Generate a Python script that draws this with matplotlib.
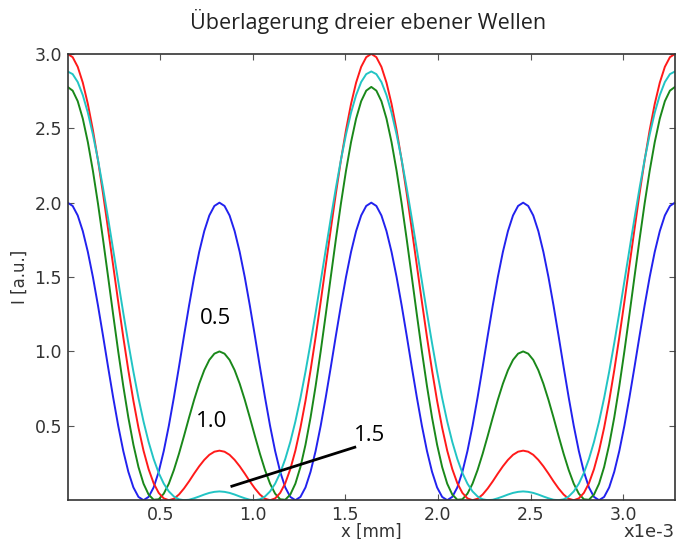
import numpy as np
import matplotlib.pyplot as plt

TITLE = "Überlagerung dreier ebener Wellen"

# sample positions along x (axis units of 1e-3), 121 points
x_pos = np.linspace(0.0, 3.28, 121)

# intensities at those positions
blue_vals = [
    2.000, 1.978, 1.914, 1.809, 1.669, 1.500, 1.309, 1.105, 0.895, 0.691,
    0.500, 0.331, 0.191, 0.086, 0.022, 0.000, 0.022, 0.086, 0.191, 0.331,
    0.500, 0.691, 0.895, 1.105, 1.309, 1.500, 1.669, 1.809, 1.914, 1.978,
    2.000, 1.978, 1.914, 1.809, 1.669, 1.500, 1.309, 1.105, 0.895, 0.691,
    0.500, 0.331, 0.191, 0.086, 0.022, 0.000, 0.022, 0.086, 0.191, 0.331,
    0.500, 0.691, 0.895, 1.105, 1.309, 1.500, 1.669, 1.809, 1.914, 1.978,
    2.000, 1.978, 1.914, 1.809, 1.669, 1.500, 1.309, 1.105, 0.895, 0.691,
    0.500, 0.331, 0.191, 0.086, 0.022, 0.000, 0.022, 0.086, 0.191, 0.331,
    0.500, 0.691, 0.895, 1.105, 1.309, 1.500, 1.669, 1.809, 1.914, 1.978,
    2.000, 1.978, 1.914, 1.809, 1.669, 1.500, 1.309, 1.105, 0.895, 0.691,
    0.500, 0.331, 0.191, 0.086, 0.022, 0.000, 0.022, 0.086, 0.191, 0.331,
    0.500, 0.691, 0.895, 1.105, 1.309, 1.500, 1.669, 1.809, 1.914, 1.978,
    2.000,
]
green_vals = [
    2.778, 2.753, 2.682, 2.565, 2.407, 2.214, 1.994, 1.753, 1.502, 1.248,
    1.000, 0.767, 0.556, 0.373, 0.223, 0.111, 0.038, 0.003, 0.006, 0.044,
    0.111, 0.203, 0.312, 0.432, 0.556, 0.675, 0.783, 0.874, 0.943, 0.985,
    1.000, 0.985, 0.943, 0.874, 0.783, 0.675, 0.556, 0.432, 0.312, 0.203,
    0.111, 0.044, 0.006, 0.003, 0.038, 0.111, 0.223, 0.373, 0.556, 0.767,
    1.000, 1.248, 1.502, 1.753, 1.994, 2.214, 2.407, 2.565, 2.682, 2.753,
    2.778, 2.753, 2.682, 2.565, 2.407, 2.214, 1.994, 1.753, 1.502, 1.248,
    1.000, 0.767, 0.556, 0.373, 0.223, 0.111, 0.038, 0.003, 0.006, 0.044,
    0.111, 0.203, 0.312, 0.432, 0.556, 0.675, 0.783, 0.874, 0.943, 0.985,
    1.000, 0.985, 0.943, 0.874, 0.783, 0.675, 0.556, 0.432, 0.312, 0.203,
    0.111, 0.044, 0.006, 0.003, 0.038, 0.111, 0.223, 0.373, 0.556, 0.767,
    1.000, 1.248, 1.502, 1.753, 1.994, 2.214, 2.407, 2.565, 2.682, 2.753,
    2.778,
]
red_vals = [
    3.000, 2.978, 2.913, 2.807, 2.664, 2.488, 2.285, 2.061, 1.822, 1.578,
    1.333, 1.096, 0.873, 0.668, 0.487, 0.333, 0.209, 0.114, 0.049, 0.012,
    0.000, 0.010, 0.038, 0.079, 0.127, 0.179, 0.228, 0.271, 0.305, 0.326,
    0.333, 0.326, 0.305, 0.271, 0.228, 0.179, 0.127, 0.079, 0.038, 0.010,
    0.000, 0.012, 0.049, 0.114, 0.209, 0.333, 0.487, 0.668, 0.873, 1.096,
    1.333, 1.578, 1.822, 2.061, 2.285, 2.488, 2.664, 2.807, 2.913, 2.978,
    3.000, 2.978, 2.913, 2.807, 2.664, 2.488, 2.285, 2.061, 1.822, 1.578,
    1.333, 1.096, 0.873, 0.668, 0.487, 0.333, 0.209, 0.114, 0.049, 0.012,
    0.000, 0.010, 0.038, 0.079, 0.127, 0.179, 0.228, 0.271, 0.305, 0.326,
    0.333, 0.326, 0.305, 0.271, 0.228, 0.179, 0.127, 0.079, 0.038, 0.010,
    0.000, 0.012, 0.049, 0.114, 0.209, 0.333, 0.487, 0.668, 0.873, 1.096,
    1.333, 1.578, 1.822, 2.061, 2.285, 2.488, 2.664, 2.807, 2.913, 2.978,
    3.000,
]
cyan_vals = [
    2.882, 2.864, 2.811, 2.723, 2.605, 2.458, 2.288, 2.098, 1.895, 1.684,
    1.471, 1.259, 1.056, 0.864, 0.687, 0.529, 0.392, 0.277, 0.183, 0.111,
    0.059, 0.025, 0.006, 0.000, 0.003, 0.013, 0.025, 0.038, 0.049, 0.056,
    0.059, 0.056, 0.049, 0.038, 0.025, 0.013, 0.003, 0.000, 0.006, 0.025,
    0.059, 0.111, 0.183, 0.277, 0.392, 0.529, 0.687, 0.864, 1.056, 1.259,
    1.471, 1.684, 1.895, 2.098, 2.288, 2.458, 2.605, 2.723, 2.811, 2.864,
    2.882, 2.864, 2.811, 2.723, 2.605, 2.458, 2.288, 2.098, 1.895, 1.684,
    1.471, 1.259, 1.056, 0.864, 0.687, 0.529, 0.392, 0.277, 0.183, 0.111,
    0.059, 0.025, 0.006, 0.000, 0.003, 0.013, 0.025, 0.038, 0.049, 0.056,
    0.059, 0.056, 0.049, 0.038, 0.025, 0.013, 0.003, 0.000, 0.006, 0.025,
    0.059, 0.111, 0.183, 0.277, 0.392, 0.529, 0.687, 0.864, 1.056, 1.259,
    1.471, 1.684, 1.895, 2.098, 2.288, 2.458, 2.605, 2.723, 2.811, 2.864,
    2.882,
]

x_ticks = [0.5, 1.0, 1.5, 2.0, 2.5, 3.0]
y_ticks = [0.5, 1.0, 1.5, 2.0, 2.5, 3.0]

# curve labels and where they sit (data coords)
labels = ["0.5", "1.0", "1.5"]
label_x = [0.796, 0.779, 1.632]
label_y = [1.224, 0.531, 0.437]
pointer_x = [0.887, 1.551]
pointer_y = [0.094, 0.356]


fig = plt.figure(figsize=(6.76, 5.39), dpi=100)
ax = fig.add_axes([0.1, 0.072, 0.8985, 0.828])

ax.plot(x_pos, blue_vals, color='#2222ee', lw=1.4)
ax.plot(x_pos, green_vals, color='#1a881a', lw=1.4)
ax.plot(x_pos, red_vals, color='#ff1a1a', lw=1.4)
ax.plot(x_pos, cyan_vals, color='#22c4c4', lw=1.4)

ax.plot(pointer_x, pointer_y, color='black', lw=2.0)
for s, lx, ly in zip(labels, label_x, label_y):
    ax.text(lx, ly, s, ha='center', va='center', fontsize=16,
            family=['Open Sans', 'DejaVu Sans'], color='black')

ax.set_xlim(0, 3.28)
ax.set_ylim(0, 3.0)
ax.set_xticks(x_ticks)
ax.set_yticks(y_ticks)
ax.tick_params(direction='in', top=True, right=True, length=4, width=0.8,
               labelsize=12.5, pad=4, labelcolor='#333333', color='#555555')
for t in ax.get_xticklabels() + ax.get_yticklabels():
    t.set_family('DejaVu Sans')
for sp in ax.spines.values():
    sp.set_color('#333333')
    sp.set_linewidth(1.2)

ax.set_xlabel("x [mm]", fontsize=12, color='#333333', labelpad=-1,
              family='DejaVu Sans')
ax.set_ylabel("I [a.u.]", fontsize=12, color='#333333', labelpad=4,
              family='DejaVu Sans')
ax.text(1.0, -0.05, "x1e-3", transform=ax.transAxes, ha='right', va='top',
        fontsize=13, color='#333333', family='DejaVu Sans')

fig.text(368 / 676, 1 - 22 / 539, TITLE, ha='center', va='center',
         fontsize=15.5, family=['Open Sans', 'DejaVu Sans'], color='#222222')

fig.savefig("out.png", dpi=100)
